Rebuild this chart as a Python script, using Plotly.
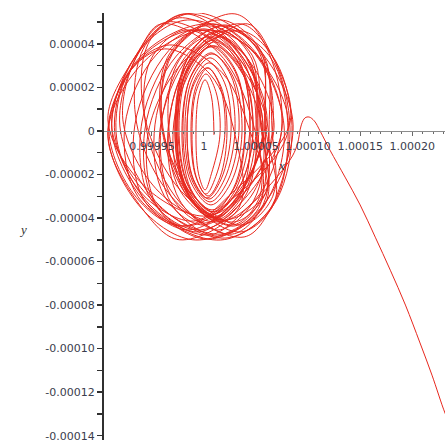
import plotly.graph_objects as go

SCALE = 1e-5  # orbit values below are given in units of 1e-5

# x - 1 (units of 1e-5) along the orbit, one loop per line, then the escaping tail
x_dev = [
    0.96, 0.71, 0.10, -0.52, -0.77, -0.52, 0.10, 0.71,
    1.54, 1.14, 0.19, -0.76, -1.15, -0.76, 0.19, 1.14,
    2.02, 1.54, 0.39, -0.77, -1.25, -0.77, 0.39, 1.54,
    2.21, 1.65, 0.29, -1.07, -1.63, -1.07, 0.29, 1.65,
    2.60, 1.98, 0.48, -1.02, -1.63, -1.02, 0.48, 1.98,
    2.98, 2.28, 0.58, -1.12, -1.83, -1.12, 0.58, 2.28,
    3.37, 2.58, 0.67, -1.23, -2.02, -1.23, 0.67, 2.58,
    3.65, 2.81, 0.77, -1.27, -2.12, -1.27, 0.77, 2.81,
    3.94, 3.01, 0.77, -1.47, -2.40, -1.47, 0.77, 3.01,
    3.94, 2.99, 0.67, -1.64, -2.60, -1.64, 0.67, 2.99,
    4.42, 3.41, 0.96, -1.49, -2.50, -1.49, 0.96, 3.41,
    4.71, 3.64, 1.06, -1.53, -2.60, -1.53, 1.06, 3.64,
    4.42, 3.38, 0.87, -1.65, -2.69, -1.65, 0.87, 3.38,
    4.71, 3.61, 0.96, -1.69, -2.79, -1.69, 0.96, 3.61,
    5.00, 3.87, 1.15, -1.57, -2.69, -1.57, 1.15, 3.87,
    5.29, 4.11, 1.25, -1.61, -2.79, -1.61, 1.25, 4.11,
    5.10, 4.43, 1.67, -1.56, -3.37, -2.30, 0.87, 3.69,
    5.67, 3.78, 0.35, -2.61, -3.37, -1.07, 2.75, 5.32,
    5.10, 4.59, 1.68, -1.93, -4.13, -3.23, 0.08, 3.29,
    5.67, 3.42, -0.33, -3.39, -3.94, -1.29, 2.87, 5.52,
    5.87, 5.38, 2.08, -2.10, -4.71, -3.82, -0.12, 3.66,
    6.73, 4.09, -0.15, -3.52, -4.04, -1.00, 3.65, 6.61,
    6.54, 5.78, 2.54, -1.29, -3.46, -2.31, 1.34, 4.76,
    5.67, 2.77, -1.70, -5.12, -5.48, -2.18, 2.70, 5.71,
    6.25, 5.77, 2.09, -2.66, -5.67, -4.80, -0.71, 3.63,
    7.50, 5.10, 0.73, -3.06, -4.04, -1.24, 3.53, 6.80,
    5.87, 5.44, 1.61, -3.39, -6.64, -5.81, -1.59, 3.02,
    5.87, 2.77, -1.90, -5.39, -5.67, -2.17, 2.90, 5.99,
    5.48, 4.63, 0.44, -4.62, -7.60, -6.34, -1.76, 2.91,
    6.06, 2.97, -2.37, -6.00, -7.79, -4.30, 1.43, 5.49,
    7.50, 5.90, 2.97, -2.43, -5.96, -5.15, -0.63, 4.37,
    6.15, 2.40, -3.55, -6.40, -8.85, -4.69, 1.65, 5.92,
    5.48, 4.19, -0.63, -6.14, -9.13, -6.50, -2.23, 2.89,
    8.08, 4.75, -1.59, -6.30, -8.85, -5.12, 1.61, 6.50,
    8.46, 6.90, 3.54, -1.95, -5.39, -4.37, 0.34, 5.42,
    8.56, 4.95, -0.94, -5.66, -6.44, -2.44, 3.86, 6.60,
    8.27, 6.50, 3.52, -1.34, -4.23, -3.06, 1.32, 5.78,
    7.69, 4.32, -1.69, -5.90, -8.08, -4.31, 2.11, 6.60,
    8.08, 6.25, 0.42, -5.99, -9.23, -6.00, -0.78, 5.23,
    4.62, 1.32, -4.11, -6.30, -9.23, -5.53, 0.29, 4.26,
    6.54, 5.50, 0.45, -5.65, -9.23, -6.00, -2.35, 3.36,
    2.98, 0.58, -3.79, -7.30, -8.56, -5.76, -0.99, 2.40,
    8.27, 6.40, 4.19, -0.19, -2.89, -1.91, 1.99, 5.98,
    4.71, 1.74, -3.33, -7.20, -8.37, -4.99, 0.47, 4.26,
    8.25, 8.95, 9.35, 9.70, 10.10, 10.60, 11.15, 12.10, 13.55, 15.00,
    16.45, 17.90, 19.35, 20.75, 21.90, 23.15, 23.75,
]

# y (units of 1e-5) along the orbit
y_val = [
    -0.18, 1.60, 2.35, 1.60, -0.18, -1.97, -2.71, -1.97,
    -0.14, 1.81, 2.62, 1.81, -0.14, -2.09, -2.90, -2.09,
    -0.05, 2.04, 2.90, 2.04, -0.05, -2.13, -2.99, -2.13,
    -0.09, 2.02, 2.90, 2.02, -0.09, -2.21, -3.08, -2.21,
    0.00, 2.21, 3.13, 2.21, 0.00, -2.21, -3.13, -2.21,
    0.05, 2.39, 3.36, 2.39, 0.05, -2.30, -3.26, -2.30,
    0.09, 2.56, 3.59, 2.56, 0.09, -2.38, -3.40, -2.38,
    -0.09, 2.48, 3.54, 2.48, -0.09, -2.66, -3.72, -2.66,
    0.14, 2.80, 3.91, 2.80, 0.14, -2.53, -3.63, -2.53,
    0.00, 2.73, 3.86, 2.73, 0.00, -2.73, -3.86, -2.73,
    0.23, 3.03, 4.18, 3.03, 0.23, -2.57, -3.72, -2.57,
    0.05, 2.91, 4.09, 2.91, 0.05, -2.82, -4.00, -2.82,
    0.32, 3.25, 4.46, 3.25, 0.32, -2.60, -3.82, -2.60,
    -0.05, 2.75, 3.91, 2.75, -0.05, -2.84, -4.00, -2.84,
    0.14, 3.13, 4.37, 3.13, 0.14, -2.85, -4.09, -2.85,
    0.23, 3.32, 4.60, 3.32, 0.23, -2.86, -4.14, -2.86,
    0.18, 3.11, 4.32, 3.11, 0.18, -2.74, -3.95, -2.74,
    0.00, 3.06, 4.32, 3.06, 0.00, -3.06, -4.32, -3.06,
    0.18, 3.31, 4.60, 3.31, 0.18, -2.94, -4.23, -2.94,
    0.14, 3.32, 4.64, 3.32, 0.14, -3.05, -4.37, -3.05,
    0.28, 3.53, 4.87, 3.53, 0.28, -2.98, -4.32, -2.98,
    0.18, 3.37, 4.69, 3.37, 0.18, -3.00, -4.32, -3.00,
    0.05, 3.30, 4.64, 3.30, 0.05, -3.21, -4.55, -3.21,
    -0.05, 3.27, 4.64, 3.27, -0.05, -3.36, -4.74, -3.36,
    0.09, 3.44, 4.83, 3.44, 0.09, -3.26, -4.64, -3.26,
    0.14, 3.52, 4.92, 3.52, 0.14, -3.24, -4.64, -3.24,
    0.28, 3.69, 5.10, 3.69, 0.28, -3.14, -4.55, -3.14,
    0.60, 3.98, 5.38, 3.98, 0.60, -2.78, -4.18, -2.78,
    0.23, 3.48, 4.83, 3.48, 0.23, -3.02, -4.37, -3.02,
    0.51, 3.82, 5.20, 3.82, 0.51, -2.81, -4.18, -2.81,
    0.41, 3.93, 5.38, 3.93, 0.41, -3.10, -4.55, -3.10,
    0.14, 3.58, 5.01, 3.58, 0.14, -3.31, -4.74, -3.31,
    0.14, 3.32, 4.64, 3.32, 0.14, -3.05, -4.37, -3.05,
    0.05, 3.62, 5.10, 3.62, 0.05, -3.53, -5.01, -3.53,
    -0.18, 3.20, 4.60, 3.20, -0.18, -3.57, -4.97, -3.57,
    0.28, 3.92, 5.43, 3.92, 0.28, -3.37, -4.87, -3.37,
    0.05, 3.49, 4.92, 3.49, 0.05, -3.40, -4.83, -3.40,
    0.23, 3.87, 5.38, 3.87, 0.23, -3.41, -4.92, -3.41,
    -0.05, 3.47, 4.92, 3.47, -0.05, -3.56, -5.01, -3.56,
    0.51, 3.63, 4.92, 3.63, 0.51, -2.62, -3.91, -2.62,
    -0.14, 3.24, 4.64, 3.24, -0.14, -3.52, -5.00, -3.52,
    -0.18, 2.61, 3.77, 2.61, -0.18, -2.98, -4.14, -2.98,
    0.41, 3.60, 4.92, 3.60, 0.41, -2.77, -4.09, -2.77,
    -0.41, 2.68, 3.95, 2.68, -0.41, -3.50, -4.78, -3.50,
    -1.34, -0.64, 0.28, 0.60, 0.64, 0.46, 0.00, -0.88, -2.12, -3.40,
    -4.88, -6.40, -8.00, -9.74, -11.22, -12.96, -13.60,
]

x_tickvals = [0.99995, 1.0, 1.00005, 1.00010, 1.00015, 1.00020]
x_ticktext = ["0.99995", "1", "1.00005", "1.00010", "1.00015", "1.00020"]
y_tickvals = [4e-5, 2e-5, 0.0, -2e-5, -4e-5, -6e-5, -8e-5, -10e-5, -12e-5, -14e-5]
y_ticktext = ["0.00004", "0.00002", "0", "-0.00002", "-0.00004", "-0.00006",
              "-0.00008", "-0.00010", "-0.00012", "-0.00014"]

x = [1 + v * SCALE for v in x_dev]
y = [v * SCALE for v in y_val]

x_range = [1 - 9.7e-5, 1 + 23.15e-5]
y_range = [-14.2e-5, 5.42e-5]
x_axis_pos = (0 - y_range[0]) / (y_range[1] - y_range[0])

fig = go.Figure()
fig.add_trace(go.Scatter(
    x=x, y=y, mode="lines",
    line=dict(color="#e8281e", width=1, shape="spline", smoothing=1.0),
    hoverinfo="skip", showlegend=False,
))

tick_font = dict(family="DejaVu Sans", size=11, color="#3a3d4d")

fig.update_layout(
    width=445, height=444, autosize=False,
    margin=dict(l=103, r=0, t=13, b=4, pad=0),
    paper_bgcolor="white", plot_bgcolor="white",
    showlegend=False,
    xaxis=dict(
        range=x_range, anchor="free", position=x_axis_pos,
        showgrid=False, zeroline=False,
        showline=True, linecolor="#8c8c8c", linewidth=1.5,
        tickmode="array", tickvals=x_tickvals, ticktext=x_ticktext,
        ticks="outside", ticklen=4, tickcolor="#6a6a6a", tickwidth=1,
        tickfont=tick_font, ticklabeloverflow="allow",
        minor=dict(tickmode="linear", tick0=1.0, dtick=1e-5, ticks="outside",
                   ticklen=2, tickcolor="#6a6a6a", tickwidth=1, showgrid=False),
        layer="above traces",
    ),
    yaxis=dict(
        range=y_range, anchor="free", position=0,
        showgrid=False, zeroline=False,
        showline=True, linecolor="#303030", linewidth=2,
        tickmode="array", tickvals=y_tickvals, ticktext=y_ticktext,
        ticks="outside", ticklen=5, tickcolor="#303030", tickwidth=1.5,
        tickfont=tick_font, ticklabeloverflow="allow",
        minor=dict(tickmode="linear", tick0=0.0, dtick=1e-5, ticks="outside",
                   ticklen=5, tickcolor="#303030", tickwidth=1.5, showgrid=False),
        layer="above traces",
    ),
    annotations=[
        dict(text="<i>x</i>", xref="paper", yref="paper", x=0.523, y=0.642,
             showarrow=False, font=dict(family="Liberation Serif", size=13, color="#333"),
             xanchor="center", yanchor="middle"),
        dict(text="<i>y</i>", xref="paper", yref="paper", x=-0.234, y=0.492,
             showarrow=False, font=dict(family="Liberation Serif", size=13, color="#333"),
             xanchor="center", yanchor="middle"),
    ],
)

fig.write_html(
    "out.html",
    config={"displayModeBar": False, "staticPlot": True},
    post_script="document.body.style.margin='0px';document.body.style.overflow='hidden';",
)
